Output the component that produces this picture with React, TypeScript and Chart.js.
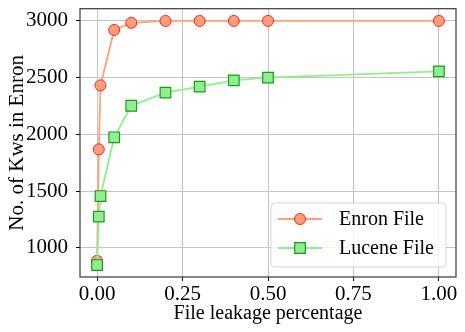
import React, { useEffect, useRef } from "react";
import { Chart, registerables } from "chart.js";

Chart.register(...registerables);

const leakage = [0, 0.005, 0.01, 0.05, 0.1, 0.2, 0.3, 0.4, 0.5, 1.0];
const enronFile = [885, 1868, 2432, 2920, 2983, 3000, 3000, 3000, 3000, 3000];
const luceneFile = [848, 1275, 1456, 1974, 2252, 2368, 2421, 2476, 2500, 2555];
const xTicks = [0, 0.25, 0.5, 0.75, 1.0];
const yTicks = [1000, 1500, 2000, 2500, 3000];
const seriesNames = ["Enron File", "Lucene File"];

const FONT = '"Liberation Serif", "DejaVu Serif", serif';

const framePlugin = {
  id: "frame",
  afterDatasetsDraw(chart: any) {
    const { ctx, chartArea } = chart;
    ctx.save();
    ctx.strokeStyle = "#3a3a3a";
    ctx.lineWidth = 1.2;
    ctx.strokeRect(chartArea.left, chartArea.top, chartArea.right - chartArea.left, chartArea.bottom - chartArea.top);
    ctx.restore();
  },
};

function drawMarker(ctx: CanvasRenderingContext2D, ds: any, x: number, y: number) {
  ctx.save();
  ctx.fillStyle = ds.pointBackgroundColor;
  ctx.strokeStyle = ds.pointBorderColor;
  ctx.lineWidth = ds.pointBorderWidth;
  ctx.beginPath();
  if (ds.pointStyle === "rect") {
    const h = Math.SQRT1_2 * ds.pointRadius;
    ctx.rect(x - h, y - h, 2 * h, 2 * h);
  } else {
    ctx.arc(x, y, ds.pointRadius, 0, Math.PI * 2);
  }
  ctx.fill();
  ctx.stroke();
  ctx.restore();
}

const legendPlugin = {
  id: "customLegend",
  afterDraw(chart: any) {
    const { ctx, chartArea } = chart;
    const w = 175;
    const h = 64;
    const x1 = chartArea.right - 10 - w;
    const y1 = chartArea.bottom - 10 - h;
    ctx.save();
    ctx.beginPath();
    const r = 4;
    ctx.moveTo(x1 + r, y1);
    ctx.lineTo(x1 + w - r, y1);
    ctx.quadraticCurveTo(x1 + w, y1, x1 + w, y1 + r);
    ctx.lineTo(x1 + w, y1 + h - r);
    ctx.quadraticCurveTo(x1 + w, y1 + h, x1 + w - r, y1 + h);
    ctx.lineTo(x1 + r, y1 + h);
    ctx.quadraticCurveTo(x1, y1 + h, x1, y1 + h - r);
    ctx.lineTo(x1, y1 + r);
    ctx.quadraticCurveTo(x1, y1, x1 + r, y1);
    ctx.closePath();
    ctx.fillStyle = "rgba(255,255,255,0.8)";
    ctx.fill();
    ctx.strokeStyle = "rgba(204,204,204,0.8)";
    ctx.lineWidth = 1;
    ctx.stroke();
    chart.data.datasets.forEach((ds: any, i: number) => {
      const cy = y1 + 16 + i * 29;
      ctx.beginPath();
      ctx.strokeStyle = ds.borderColor;
      ctx.lineWidth = ds.borderWidth;
      ctx.moveTo(x1 + 7, cy);
      ctx.lineTo(x1 + 51, cy);
      ctx.stroke();
      drawMarker(ctx, ds, x1 + 29, cy);
      ctx.fillStyle = "#000";
      ctx.font = `20px ${FONT}`;
      ctx.textBaseline = "middle";
      ctx.textAlign = "left";
      ctx.fillText(ds.label, x1 + 68, cy + 1);
    });
    ctx.restore();
  },
};

export default function App() {
  const ref = useRef<HTMLCanvasElement | null>(null);
  useEffect(() => {
    if (!ref.current) return;
    const chart = new Chart(ref.current, {
      type: "line",
      data: {
        datasets: [
          {
            label: seriesNames[0],
            data: leakage.map((x, i) => ({ x, y: enronFile[i] })),
            borderColor: "#ffa07a",
            borderWidth: 1.8,
            backgroundColor: "#ffa07a",
            pointBackgroundColor: "#ff9f7a",
            pointBorderColor: "#ff2020",
            pointBorderWidth: 1,
            pointRadius: 5.5,
            pointStyle: "circle",
            order: 2,
          },
          {
            label: seriesNames[1],
            data: leakage.map((x, i) => ({ x, y: luceneFile[i] })),
            borderColor: "#90ee90",
            borderWidth: 1.8,
            backgroundColor: "#90ee90",
            pointBackgroundColor: "#90ee90",
            pointBorderColor: "#1e9a1e",
            pointBorderWidth: 1.2,
            pointRadius: 7.5,
            pointStyle: "rect",
            order: 1,
          },
        ] as any,
      },
      options: {
        animation: false,
        responsive: false,
        layout: { padding: { left: 0, top: 7, right: 9, bottom: 0 } },
        plugins: { legend: { display: false }, tooltip: { enabled: false } },
        scales: {
          x: {
            type: "linear",
            min: -0.05,
            max: 1.05,
            afterBuildTicks: (s: any) => {
              s.ticks = xTicks.map((v) => ({ value: v }));
            },
            afterFit: (s: any) => {
              s.height = 55;
              s.paddingLeft = 0;
              s.paddingRight = 0;
            },
            ticks: {
              color: "#000",
              font: { family: FONT, size: 21 },
              padding: 1,
              maxRotation: 0,
              autoSkip: false,
              callback: (v: any) => Number(v).toFixed(2),
            },
            grid: { color: "#c4c4c4", lineWidth: 1, tickLength: 4, tickColor: "#000" },
            border: { display: false },
            title: {
              display: true,
              text: "File leakage percentage",
              color: "#000",
              font: { family: FONT, size: 20 },
              padding: { top: 0, bottom: 6 },
            },
          },
          y: {
            type: "linear",
            min: 742.5,
            max: 3107.5,
            afterBuildTicks: (s: any) => {
              s.ticks = yTicks.map((v) => ({ value: v }));
            },
            afterFit: (s: any) => {
              s.width = 80;
              s.paddingTop = 0;
              s.paddingBottom = 0;
            },
            ticks: {
              color: "#000",
              font: { family: FONT, size: 21 },
              padding: 8,
              autoSkip: false,
              callback: (v: any) => String(v),
            },
            grid: { color: "#c4c4c4", lineWidth: 1, tickLength: 4, tickColor: "#000" },
            border: { display: false },
            title: {
              display: true,
              text: "No. of Kws in Enron",
              color: "#000",
              font: { family: FONT, size: 21 },
              padding: { top: 5, bottom: 0 },
            },
          },
        },
      },
      plugins: [framePlugin, legendPlugin],
    } as any);
    return () => chart.destroy();
  }, []);
  return (
    <div style={{ position: "absolute", left: 0, top: 0, width: 465, height: 332, background: "#fff" }}>
      <canvas ref={ref} width={465} height={332} style={{ width: 465, height: 332 }} />
    </div>
  );
}
